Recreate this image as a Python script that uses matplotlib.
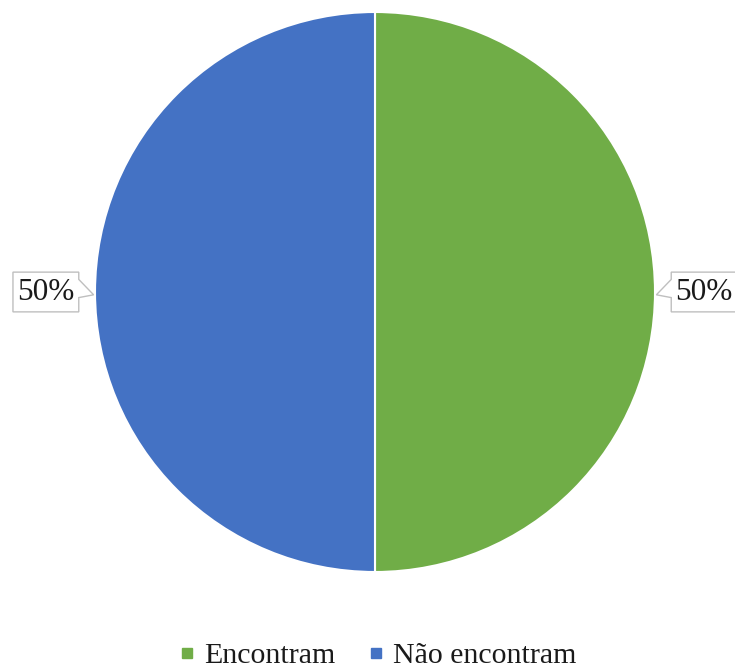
import numpy as np
import matplotlib
matplotlib.use("Agg")
import matplotlib.pyplot as plt
from matplotlib.lines import Line2D
from matplotlib.patches import Polygon

# ----------------------------- data ------------------------------------------
categories = ["Encontram", "Não encontram"]
values     = [50, 50]
colours    = ["#70AD47", "#4472C4"]

plt.rcParams['font.family'] = ['Liberation Serif', 'DejaVu Serif']

W, H = 735, 670
fig = plt.figure(figsize=(W / 100, H / 100), dpi=100)
# pie centre ~ (375, 292) px, radius ~280 px
cx, cy, r = 375, 292, 280
ax = fig.add_axes([(cx - r) / W, (H - cy - r) / H, 2 * r / W, 2 * r / H])

wedges, _ = ax.pie(values, colors=colours, startangle=90, counterclock=False,
                   radius=1.0, wedgeprops=dict(edgecolor='white', linewidth=1.5))
ax.set_xlim(-1, 1)
ax.set_ylim(-1, 1)
ax.set_aspect('equal')
ax.axis('off')

# callout labels
total = sum(values)
bw, bh = 0.235, 0.071       # box width, half height
for w, v in zip(wedges, values):
    ang = np.deg2rad((w.theta1 + w.theta2) / 2)
    side = 1 if np.cos(ang) >= 0 else -1
    inner = side * 1.058     # box edge near pie
    outer = inner + side * bw
    tip = side * 1.005
    ty = -0.01
    pts = [(inner, bh), (outer, bh), (outer, -bh), (inner, -bh),
           (inner, -0.02), (tip, ty), (inner, 0.045)]
    ax.add_patch(Polygon(pts, closed=True, facecolor='white',
                         edgecolor='#BFBFBF', linewidth=1.0, clip_on=False, zorder=3))
    ax.text((inner + outer) / 2, 0.0, f"{v / total:.0%}", ha='center', va='center',
            fontsize=22.5, color='#1a1a1a', zorder=4, clip_on=False)

handles = [Line2D([], [], marker='s', linestyle='none', markersize=6.5,
                  markerfacecolor=c, markeredgecolor=c) for c in colours]
fig.legend(handles, categories, loc='center', bbox_to_anchor=(378 / W, 1 - 656 / H),
           ncol=2, frameon=False, fontsize=21.5, handletextpad=0.3,
           columnspacing=1.14, handlelength=0.5, labelcolor='#1a1a1a')

fig.savefig("out.png", dpi=100)
